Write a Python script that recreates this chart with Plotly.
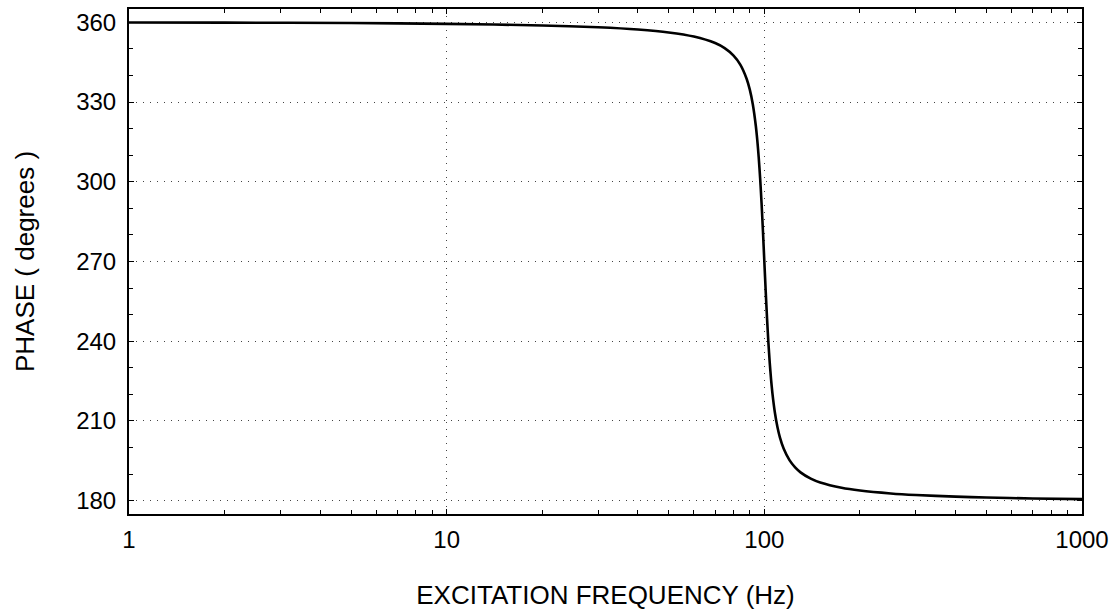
import plotly.graph_objects as go

# Excitation frequency (Hz) and phase (degrees)
freq_hz = [1, 2, 5, 10, 20, 30, 40, 50, 60, 70, 75, 80, 84, 88, 90, 92, 94, 95,
           96, 97, 98, 99, 100, 101, 102, 103, 104, 105, 106, 108, 110, 112, 115,
           120, 125, 130, 140, 150, 175, 200, 250, 300, 400, 500, 700, 1000]
phase_deg = [359.94, 359.89, 359.71, 359.42, 358.81, 358.11, 357.27, 356.19,
             354.64, 352.19, 350.27, 347.47, 344.08, 338.69, 334.65, 329.08,
             321.08, 315.74, 309.23, 301.36, 292.0, 281.37, 270.0, 258.74,
             248.4, 239.4, 231.88, 225.69, 220.61, 213.0, 207.65, 203.76,
             199.63, 195.26, 192.53, 190.67, 188.30, 186.84, 184.85, 183.81,
             182.73, 182.15, 181.53, 181.19, 180.84, 180.58]

x_title = "EXCITATION FREQUENCY (Hz)"
y_title = "PHASE ( degrees )"

FONT = "Liberation Sans, Arial, sans-serif"

fig = go.Figure()
fig.add_trace(go.Scatter(x=freq_hz, y=phase_deg, mode="lines",
                         line=dict(color="black", width=2.6, shape="spline", smoothing=0.6),
                         showlegend=False, hoverinfo="skip"))

fig.update_layout(
    width=1120, height=616,
    margin=dict(l=129, r=38, t=7, b=102),
    paper_bgcolor="white", plot_bgcolor="white",
    font=dict(family=FONT, color="black", size=24),
)

GRID = dict(showgrid=True, gridcolor="#444444", griddash="1px,6px", gridwidth=1)

fig.update_xaxes(
    type="log", range=[0, 3], dtick=1,
    showline=True, linecolor="black", linewidth=2, mirror="ticks",
    ticks="inside", ticklen=5, tickcolor="black", tickwidth=1,
    zeroline=False, ticklabelstandoff=3,
    minor=dict(dtick="D1", ticks="inside", ticklen=4, tickcolor="black", showgrid=False),
    tickfont=dict(size=24, family=FONT),
    title=dict(text=x_title, font=dict(size=26, family=FONT), standoff=34),
    **GRID,
)
fig.update_yaxes(
    range=[175, 365], tick0=180, dtick=30,
    showline=True, linecolor="black", linewidth=2, mirror="ticks",
    ticks="inside", ticklen=5, tickcolor="black", tickwidth=1,
    zeroline=False, ticklabelstandoff=6,
    minor=dict(dtick=10, ticks="inside", ticklen=4, tickcolor="black", showgrid=False),
    tickfont=dict(size=24, family=FONT),
    title=dict(text=y_title, font=dict(size=26, family=FONT), standoff=34),
    **GRID,
)

fig.write_html("out.html", config={"displayModeBar": False},
               post_script="document.body.style.margin='0';")
